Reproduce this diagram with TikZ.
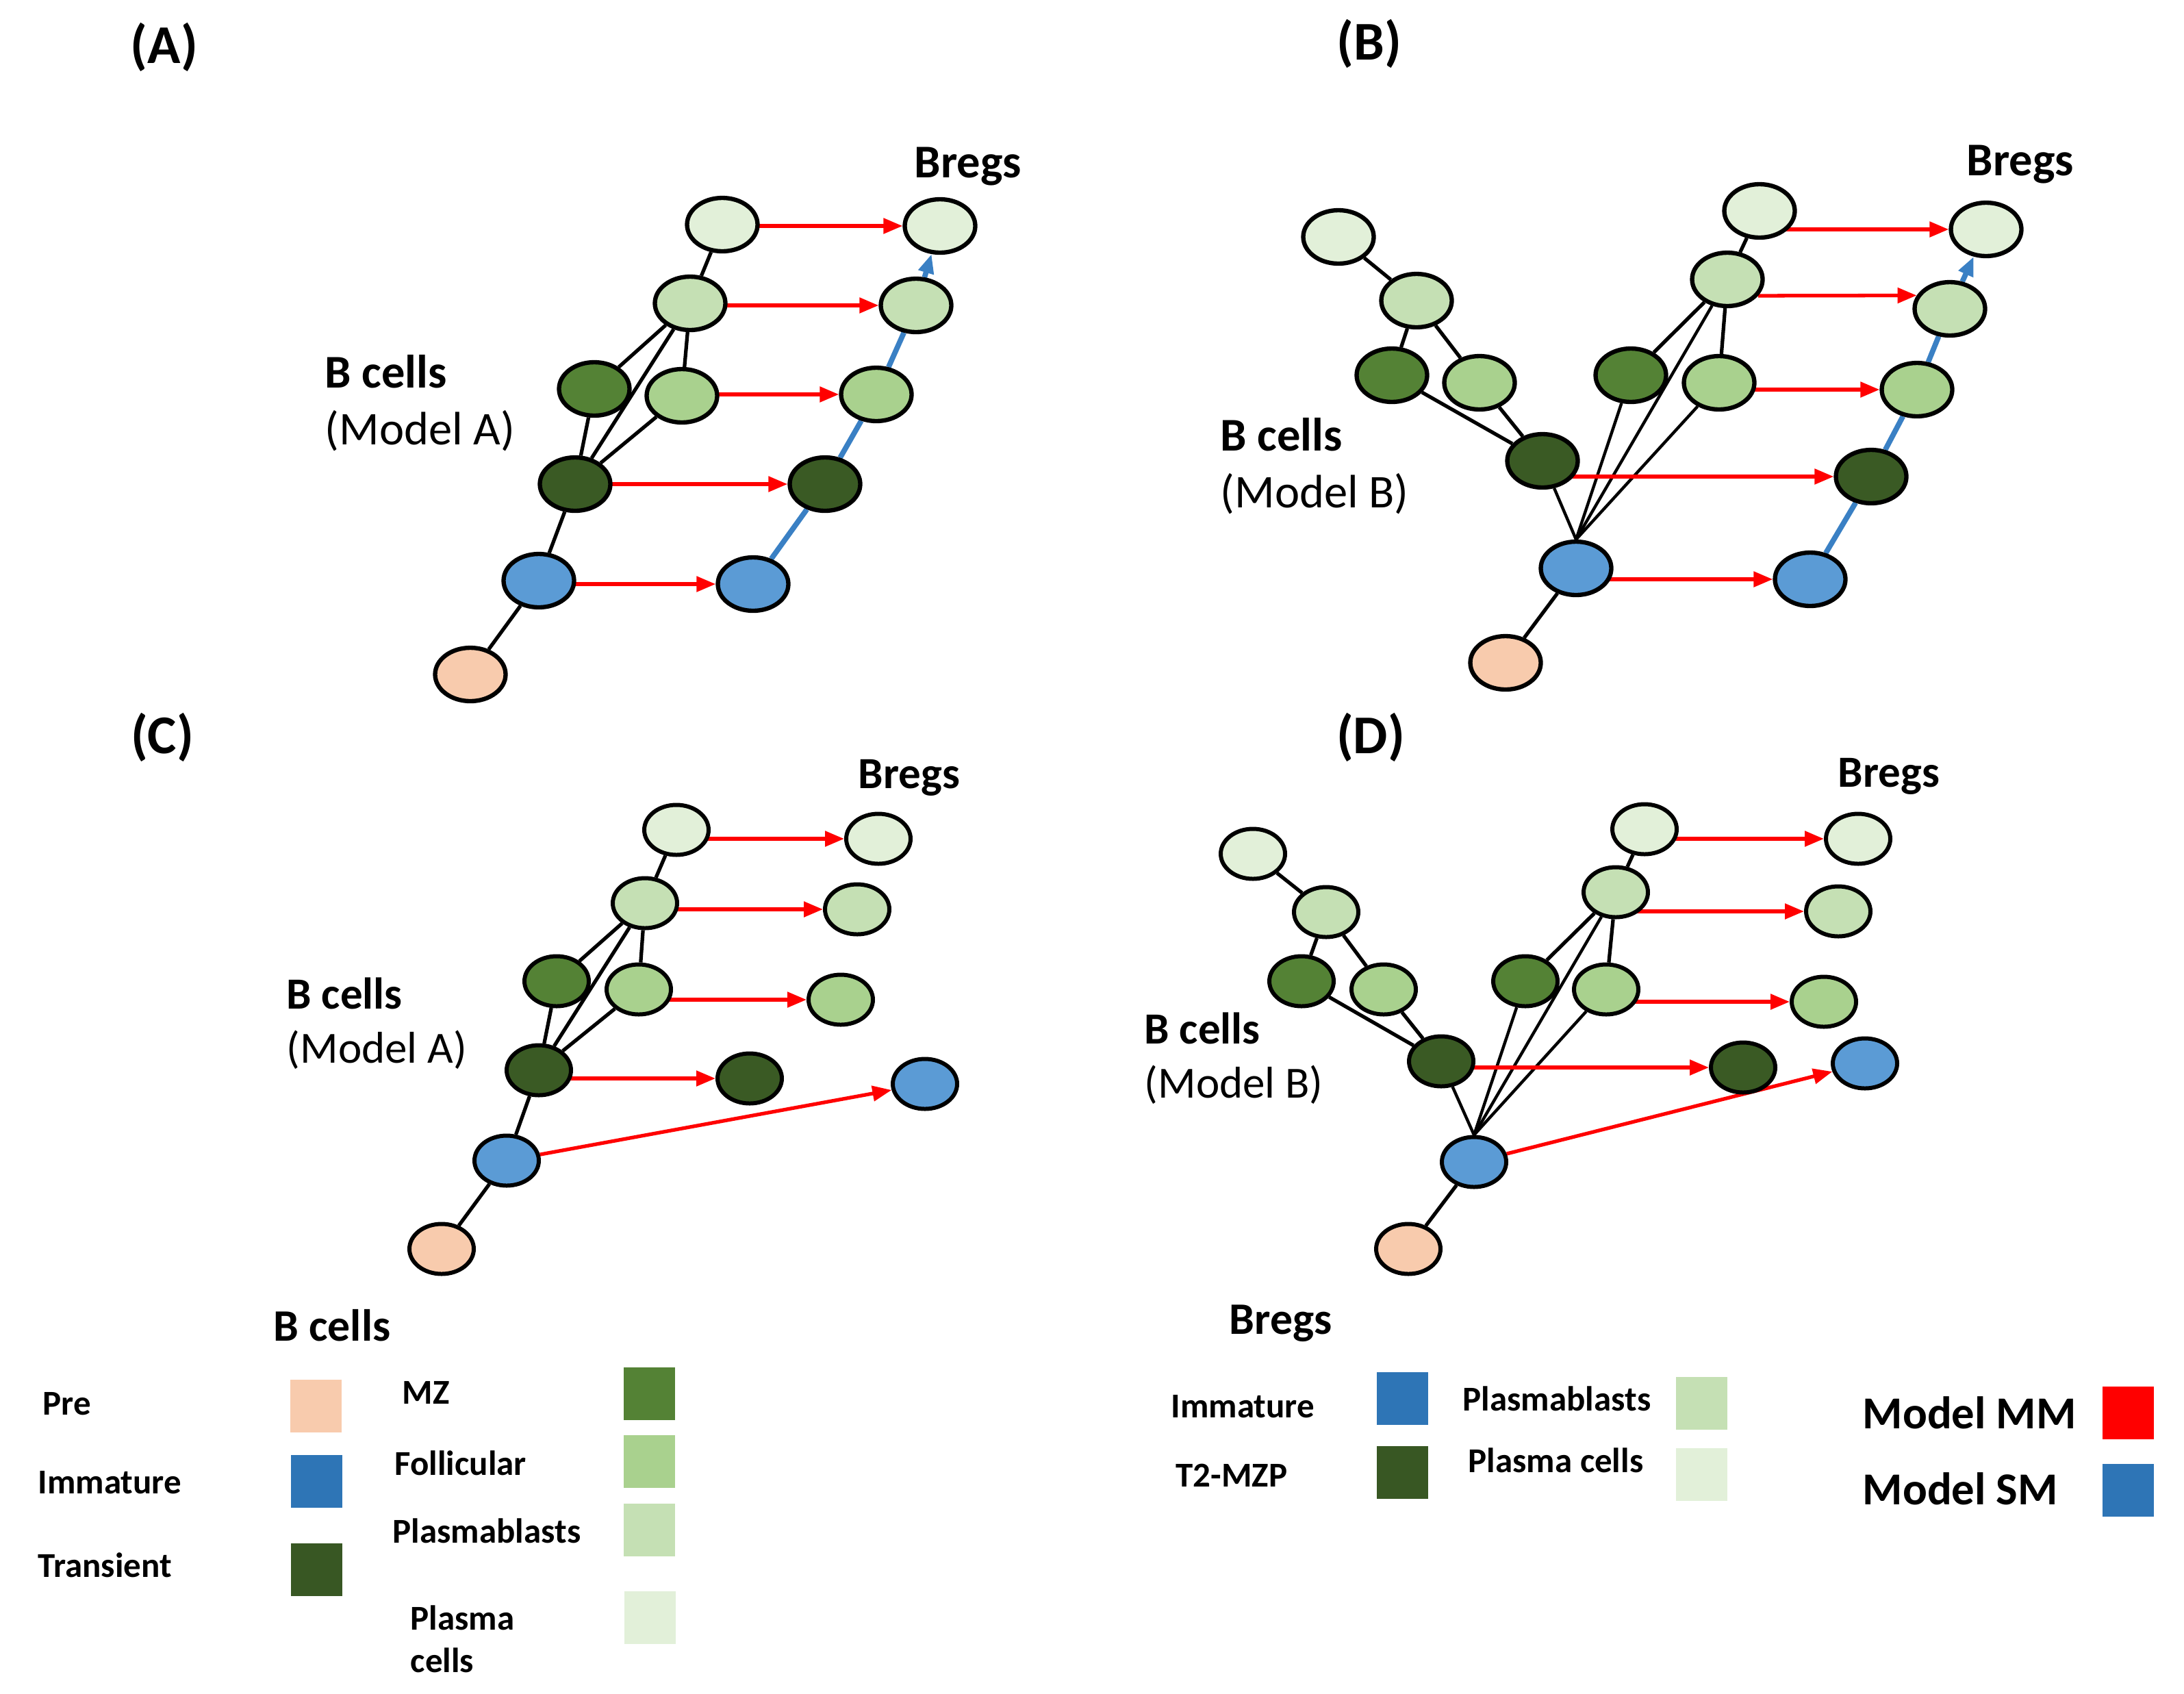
\documentclass[tikz,border=0pt]{standalone}
\usepackage{fontspec}
\setmainfont{Carlito}
\usepackage{xcolor}
\usepackage{tikz}
\usetikzlibrary{
  arrows.meta,
  positioning,
  backgrounds,
  shapes.geometric}

\definecolor{preC}{HTML}{F8CBAD}
\definecolor{immC}{HTML}{5B9BD5}
\definecolor{transC}{HTML}{3A5A24}
\definecolor{mzC}{HTML}{548235}
\definecolor{follC}{HTML}{A9D18E}
\definecolor{blastC}{HTML}{C5E0B4}
\definecolor{plasmaC}{HTML}{E2F0D9}
\definecolor{keyblue}{HTML}{2E75B6}
\definecolor{keydark}{HTML}{385723}
\definecolor{smblue}{HTML}{3A80C4}

\tikzset{cell/.style={ellipse, draw, line width=1.8pt, minimum width=1.03cm, minimum height=0.78cm, inner sep=0pt},
         shrunk/.style={line width=1.7pt, minimum width=0.94cm, minimum height=0.73cm},
         pre cell/.style={cell, fill=preC},
         imm cell/.style={cell, fill=immC},
         trans cell/.style={cell, fill=transC},
         mz cell/.style={cell, fill=mzC},
         foll cell/.style={cell, fill=follC},
         blast cell/.style={cell, fill=blastC},
         plasma cell/.style={cell, fill=plasmaC},
         key/.style={minimum width=0.75cm, minimum height=0.77cm, inner sep=0pt},
         lab panel/.style={font=\fontsize{22.7}{26}\selectfont\bfseries, inner sep=0pt, anchor=base},
         lab head/.style={font=\fontsize{19.5}{23}\selectfont\bfseries, inner sep=0pt, anchor=base west},
         lab sub/.style={font=\fontsize{19.5}{23}\selectfont, inner sep=0pt, anchor=base west},
         lab headcd/.style={font=\fontsize{18.5}{22}\selectfont\bfseries, inner sep=0pt, anchor=base west},
         lab subcd/.style={font=\fontsize{18.5}{22}\selectfont, inner sep=0pt, anchor=base west},
         leg title/.style={font=\fontsize{18.7}{22}\selectfont\bfseries, inner sep=0pt, anchor=base west},
         leg item/.style={font=\fontsize{14.5}{17}\selectfont\bfseries, inner sep=0pt, anchor=base west},
         leg model/.style={font=\fontsize{19}{22}\selectfont\bfseries, inner sep=0pt, anchor=base west},
         link/.style={line width=1.5pt},
         fan/.style={line width=1.25pt},
         mm/.style={->, red, line width=1.5pt},
         sm/.style={draw=smblue, line width=2.2pt}
        }

\begin{document}
\begin{tikzpicture}[>={Triangle[length=0.28cm, width=0.22cm]}]
\useasboundingbox (0,0) rectangle (31.9,-24.73);

% (A) B cells, model A
\node[lab panel](lab_a) at (2.40,-0.92){(A)};
\node[pre cell](a_pre) at (6.87,-9.85){};
\node[imm cell](a_imm) at (7.87,-8.48){};
\node[trans cell](a_trans) at (8.40,-7.07){};
\node[mz cell](a_mz) at (8.68,-5.68){};
\node[foll cell](a_foll) at (9.96,-5.78){};
\node[blast cell](a_pblast) at (10.08,-4.43){};
\node[plasma cell](a_pcell) at (10.55,-3.28){};
\node[imm cell](a_breg_imm) at (11.00,-8.53){};
\node[trans cell](a_breg_t2) at (12.05,-7.07){};
\node[foll cell](a_breg_foll) at (12.80,-5.76){};
\node[blast cell](a_breg_pblast) at (13.38,-4.46){};
\node[plasma cell](a_breg_pcell) at (13.73,-3.30){};
\node[lab head, anchor=base](a_bregs) at (14.14,-2.59){Bregs};
\node[lab head](a_bcells) at (4.74,-5.66){B cells};
\node[lab sub](a_model) at (4.74,-6.49){(Model A)};

\begin{scope}[on background layer]
\draw[link](a_pre) -- (a_imm);
\draw[link](a_imm) -- (a_trans);
\draw[link](a_trans) -- (a_mz);
\draw[link](a_trans) -- (a_pblast);
\draw[link](a_trans) -- (a_foll);
\draw[link](a_mz) -- (a_pblast);
\draw[link](a_foll) -- (a_pblast);
\draw[link](a_pblast) -- (a_pcell);

\draw[mm](a_imm.center |- a_breg_imm) -- (a_breg_imm);
\draw[mm](a_trans.center |- a_breg_t2) -- (a_breg_t2);
\draw[mm](a_foll.center |- a_breg_foll) -- (a_breg_foll);
\draw[mm](a_pblast.center |- a_breg_pblast) -- (a_breg_pblast);
\draw[mm](a_pcell.center |- a_breg_pcell) -- (a_breg_pcell);

\draw[sm](a_breg_imm) -- (a_breg_t2);
\draw[sm](a_breg_t2) -- (a_breg_foll);
\draw[sm](a_breg_foll) -- (a_breg_pblast);
\draw[sm, ->](a_breg_pblast) -- (a_breg_pcell);
\end{scope}

% (B) B cells, model B
\node[lab panel](lab_b) at (20.00,-0.87){(B)};
\node[plasma cell](b_l_pcell) at (19.55,-3.46){};
\node[blast cell](b_l_pblast) at (20.69,-4.39){};
\node[mz cell](b_l_mz) at (20.33,-5.48){};
\node[foll cell](b_l_foll) at (21.61,-5.59){};
\node[trans cell](b_trans) at (22.53,-6.73){};
\node[imm cell](b_imm) at (23.02,-8.30){};
\node[pre cell](b_pre) at (21.99,-9.68){};
\node[mz cell](b_r_mz) at (23.82,-5.48){};
\node[foll cell](b_r_foll) at (25.11,-5.59){};
\node[blast cell](b_r_pblast) at (25.23,-4.08){};
\node[plasma cell](b_r_pcell) at (25.70,-3.08){};
\node[imm cell](b_breg_imm) at (26.44,-8.46){};
\node[trans cell](b_breg_t2) at (27.33,-6.96){};
\node[foll cell](b_breg_foll) at (28.00,-5.69){};
\node[blast cell](b_breg_pblast) at (28.48,-4.51){};
\node[plasma cell](b_breg_pcell) at (29.01,-3.35){};
\node[lab head, anchor=base](b_bregs) at (29.51,-2.56){Bregs};
\node[lab head](b_bcells) at (17.82,-6.58){B cells};
\node[lab sub](b_model) at (17.82,-7.41){(Model B)};

\begin{scope}[on background layer]
\draw[link](b_l_pcell) -- (b_l_pblast);
\draw[link](b_l_pblast) -- (b_l_mz);
\draw[link](b_l_pblast) -- (b_l_foll);
\draw[link](b_l_mz) -- (b_trans);
\draw[link](b_l_foll) -- (b_trans);
\draw[fan](b_trans) -- (b_imm.north);
\draw[link](b_pre) -- (b_imm);
\draw[fan](b_imm.north) -- (b_r_mz);
\draw[fan](b_imm.north) -- (b_r_pblast);
\draw[fan](b_imm.north) -- (b_r_foll);
\draw[link](b_r_mz) -- (b_r_pblast);
\draw[link](b_r_foll) -- (b_r_pblast);
\draw[link](b_r_pblast) -- (b_r_pcell);

\draw[mm](b_imm.center |- b_breg_imm) -- (b_breg_imm);
\draw[mm](b_trans.center |- b_breg_t2) -- (b_breg_t2);
\draw[mm](b_r_foll.center |- b_breg_foll) -- (b_breg_foll);
\draw[mm](b_r_pblast.-28) -- (b_breg_pblast.158);
\draw[mm](b_r_pcell.center |- b_breg_pcell) -- (b_breg_pcell);

\draw[sm](b_breg_imm) -- (b_breg_t2);
\draw[sm](b_breg_t2) -- (b_breg_foll);
\draw[sm](b_breg_foll) -- (b_breg_pblast);
\draw[sm, ->](b_breg_pblast) -- (b_breg_pcell);
\end{scope}

% (C) model A, immature cells jump straight to Bregs
\node[lab panel](lab_c) at (2.37,-11.00){(C)};
\node[pre cell, shrunk](c_pre) at (6.45,-18.24){};
\node[imm cell, shrunk](c_imm) at (7.40,-16.95){};
\node[trans cell, shrunk](c_trans) at (7.87,-15.63){};
\node[mz cell, shrunk](c_mz) at (8.13,-14.33){};
\node[foll cell, shrunk](c_foll) at (9.33,-14.45){};
\node[blast cell, shrunk](c_pblast) at (9.42,-13.19){};
\node[plasma cell, shrunk](c_pcell) at (9.88,-12.12){};
\node[plasma cell, shrunk](c_breg_pcell) at (12.83,-12.25){};
\node[blast cell, shrunk](c_breg_pblast) at (12.52,-13.28){};
\node[foll cell, shrunk](c_breg_foll) at (12.28,-14.60){};
\node[trans cell, shrunk](c_breg_t2) at (10.95,-15.75){};
\node[imm cell, shrunk](c_breg_imm) at (13.51,-15.83){};
\node[lab headcd, anchor=base](c_bregs) at (13.28,-11.51){Bregs};
\node[lab headcd](c_bcells) at (4.18,-14.73){B cells};
\node[lab subcd](c_model) at (4.18,-15.52){(Model A)};

\begin{scope}[on background layer]
\draw[link](c_pre) -- (c_imm);
\draw[link](c_imm) -- (c_trans);
\draw[link](c_trans) -- (c_mz);
\draw[link](c_trans) -- (c_pblast);
\draw[link](c_trans) -- (c_foll);
\draw[link](c_mz) -- (c_pblast);
\draw[link](c_foll) -- (c_pblast);
\draw[link](c_pblast) -- (c_pcell);

\draw[mm](c_pcell.center |- c_breg_pcell) -- (c_breg_pcell);
\draw[mm](c_pblast.center |- c_breg_pblast) -- (c_breg_pblast);
\draw[mm](c_foll.center |- c_breg_foll) -- (c_breg_foll);
\draw[mm](c_trans.center |- c_breg_t2) -- (c_breg_t2);
\draw[mm](c_imm) -- (c_breg_imm);
\end{scope}

% (D) model B, immature cells jump straight to Bregs
\node[lab panel](lab_d) at (20.02,-11.00){(D)};
\node[plasma cell, shrunk](d_l_pcell) at (18.30,-12.47){};
\node[blast cell, shrunk](d_l_pblast) at (19.37,-13.32){};
\node[mz cell, shrunk](d_l_mz) at (19.01,-14.33){};
\node[foll cell, shrunk](d_l_foll) at (20.21,-14.45){};
\node[trans cell, shrunk](d_trans) at (21.05,-15.50){};
\node[imm cell, shrunk](d_imm) at (21.53,-16.97){};
\node[pre cell, shrunk](d_pre) at (20.57,-18.24){};
\node[mz cell, shrunk](d_r_mz) at (22.28,-14.33){};
\node[foll cell, shrunk](d_r_foll) at (23.46,-14.45){};
\node[blast cell, shrunk](d_r_pblast) at (23.60,-13.03){};
\node[plasma cell, shrunk](d_r_pcell) at (24.02,-12.11){};
\node[plasma cell, shrunk](d_breg_pcell) at (27.14,-12.25){};
\node[blast cell, shrunk](d_breg_pblast) at (26.85,-13.31){};
\node[foll cell, shrunk](d_breg_foll) at (26.64,-14.63){};
\node[trans cell, shrunk](d_breg_t2) at (25.46,-15.59){};
\node[imm cell, shrunk](d_breg_imm) at (27.24,-15.53){};
\node[lab headcd, anchor=base](d_bregs) at (27.59,-11.49){Bregs};
\node[lab headcd](d_bcells) at (16.71,-15.24){B cells};
\node[lab subcd](d_model) at (16.71,-16.03){(Model B)};

\begin{scope}[on background layer]
\draw[link](d_l_pcell) -- (d_l_pblast);
\draw[link](d_l_pblast) -- (d_l_mz);
\draw[link](d_l_pblast) -- (d_l_foll);
\draw[link](d_l_mz) -- (d_trans);
\draw[link](d_l_foll) -- (d_trans);
\draw[fan](d_trans) -- (d_imm.north);
\draw[link](d_pre) -- (d_imm);
\draw[fan](d_imm.north) -- (d_r_mz);
\draw[fan](d_imm.north) -- (d_r_pblast);
\draw[fan](d_imm.north) -- (d_r_foll);
\draw[link](d_r_mz) -- (d_r_pblast);
\draw[link](d_r_foll) -- (d_r_pblast);
\draw[link](d_r_pblast) -- (d_r_pcell);

\draw[mm](d_r_pcell.center |- d_breg_pcell) -- (d_breg_pcell);
\draw[mm](d_r_pblast.center |- d_breg_pblast) -- (d_breg_pblast);
\draw[mm](d_r_foll.center |- d_breg_foll) -- (d_breg_foll);
\draw[mm](d_trans.center |- d_breg_t2) -- (d_breg_t2);
\draw[mm](d_imm) -- (d_breg_imm);
\end{scope}

% legend, B cells
\node[leg title](leg_bcells) at (3.99,-19.58){B cells};
\node[leg item](leg_pre) at (0.62,-20.66){Pre};
\node[leg item](leg_imm) at (0.55,-21.81){Immature};
\node[leg item](leg_trans) at (0.55,-23.03){Transient};
\node[leg item](leg_mz) at (5.87,-20.50){MZ};
\node[leg item](leg_foll) at (5.76,-21.54){Follicular};
\node[leg item](leg_pblast) at (5.73,-22.53){Plasmablasts};
\node[leg item](leg_pcell) at (5.99,-23.80){Plasma};
\node[leg item](leg_pcell2) at (5.99,-24.42){cells};
\node[key, fill=preC](key_pre) at (4.61,-20.53){};
\node[key, fill=keyblue](key_imm) at (4.62,-21.63){};
\node[key, fill=keydark](key_trans) at (4.62,-22.92){};
\node[key, fill=mzC](key_mz) at (9.48,-20.35){};
\node[key, fill=follC](key_foll) at (9.48,-21.34){};
\node[key, fill=blastC](key_pblast) at (9.48,-22.34){};
\node[key, fill=plasmaC](key_pcell) at (9.49,-23.62){};

% legend, Bregs and models
\node[leg title](leg_bregs) at (17.95,-19.48){Bregs};
\node[leg item](leg_breg_imm) at (17.10,-20.70){Immature};
\node[leg item](leg_breg_t2) at (17.17,-21.71){T2-MZP};
\node[leg item](leg_breg_pblast) at (21.36,-20.60){Plasmablasts};
\node[leg item](leg_breg_pcell) at (21.44,-21.50){Plasma cells};
\node[leg model](leg_mm) at (27.20,-20.86){Model MM};
\node[leg model](leg_sm) at (27.20,-21.97){Model SM};
\node[key, fill=keyblue](key_breg_imm) at (20.48,-20.42){};
\node[key, fill=keydark](key_breg_t2) at (20.48,-21.50){};
\node[key, fill=blastC](key_breg_pblast) at (24.85,-20.49){};
\node[key, fill=plasmaC](key_breg_pcell) at (24.85,-21.53){};
\node[key, fill=red](key_mm) at (31.08,-20.63){};
\node[key, fill=keyblue](key_sm) at (31.08,-21.76){};

\end{tikzpicture}
\end{document}
